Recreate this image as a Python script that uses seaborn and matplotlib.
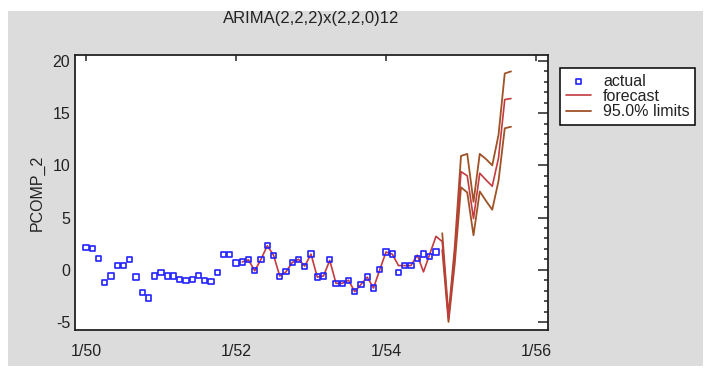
import numpy as np
import pandas as pd
import matplotlib
matplotlib.use("Agg")
import matplotlib.pyplot as plt
import seaborn as sns
from matplotlib.patches import Rectangle
from matplotlib.ticker import FixedLocator, MultipleLocator, NullLocator

title = "ARIMA(2,2,2)x(2,2,0)12"
y_label = "PCOMP_2"
tick_months = [0, 24, 48, 72]
tick_labels = ["1/50", "1/52", "1/54", "1/56"]

# observed series, monthly from January 1950
actual = [2.1, 2.0, 1.1, -1.2, -0.6, 0.4, 0.4, 1.0, -0.7, -2.2, -2.7, -0.6,
          -0.25, -0.6, -0.6, -0.9, -1.0, -0.9, -0.55, -1.0, -1.1, -0.25, 1.45, 1.45,
          0.65, 0.75, 0.95, -0.1, 1.0, 2.3, 1.4, -0.65, -0.2, 0.7, 1.0, 0.3,
          1.5, -0.7, -0.6, 0.95, -1.3, -1.3, -1.0, -2.1, -1.4, -0.7, -1.75, 0.0,
          1.7, 1.5, -0.3, 0.4, 0.4, 1.1, 1.5, 1.25, 1.7]

# one-step fits followed by the forecasts
forecast_start = 25
forecast = [0.75, 0.95, -0.1, 1.0, 2.3, 1.4, -0.6, -0.2, 0.7, 1.0, 0.35,
            1.5, -0.7, -0.6, 0.9, -1.3, -1.3, -1.0, -2.1, -1.4, -0.7, -1.75, 0.0,
            1.7, 1.5, 0.4, 0.4, 0.4, 1.4, -0.2, 1.5, 3.2,
            2.7, -4.7, 1.4, 9.4, 9.0, 4.9, 9.25, 8.6, 8.0, 10.7, 16.3, 16.4]

# 95% forecast limits
limits_start = 57
upper = [3.5, -4.4, 2.2, 10.9, 11.1, 6.5, 11.1, 10.6, 10.0, 12.9, 18.8, 19.0]
lower = [1.9, -5.0, 0.6, 7.9, 7.4, 3.3, 7.5, 6.6, 5.75, 8.5, 13.55, 13.7]

actual_df = pd.DataFrame({"month": np.arange(len(actual)), "value": actual})
fc_df = pd.DataFrame({"month": np.arange(forecast_start, forecast_start + len(forecast)),
                      "value": forecast})
up_df = pd.DataFrame({"month": np.arange(limits_start, limits_start + len(upper)),
                      "value": upper})
lo_df = pd.DataFrame({"month": np.arange(limits_start, limits_start + len(lower)),
                      "value": lower})

sns.set_theme(style="white")
plt.rcParams["font.family"] = ["Liberation Sans", "DejaVu Sans"]
plt.rcParams["axes.unicode_minus"] = False

W, H = 706, 374
fig = plt.figure(figsize=(W / 100, H / 100), dpi=100, facecolor="white")
fig.patches.append(Rectangle((8 / W, 1 - 366 / H), (703 - 8) / W, (366 - 11) / H,
                             transform=fig.transFigure, facecolor="#dcdcdc",
                             edgecolor="none", zorder=-10))
ax = fig.add_axes([75 / W, 1 - 330 / H, (548 - 75) / W, (330 - 55) / H])
ax.set_facecolor("white")

blue = "#2222ff"
fc_color = "#c43a3f"
lim_color = "#9e5226"

sns.lineplot(data=up_df, x="month", y="value", color=lim_color, lw=1.3,
             estimator=None, ax=ax, label="95.0% limits")
sns.lineplot(data=lo_df, x="month", y="value", color=lim_color, lw=1.3,
             estimator=None, ax=ax, label="_lower")
sns.lineplot(data=fc_df, x="month", y="value", color=fc_color, lw=1.2,
             estimator=None, ax=ax, label="forecast")
sns.scatterplot(data=actual_df, x="month", y="value", marker="s", s=14,
                facecolor="none", edgecolor=blue, linewidth=1.2, ax=ax,
                label="actual", zorder=5)
for coll in ax.collections:
    coll.set_facecolor("none")
    coll.set_edgecolor(blue)

ax.set_xlim(-1.76, 73.92)
ax.set_ylim(-5.77, 20.57)
ax.xaxis.set_major_locator(FixedLocator(tick_months))
ax.set_xticklabels(tick_labels)
ax.xaxis.set_minor_locator(NullLocator())
ax.yaxis.set_major_locator(MultipleLocator(5))
ax.yaxis.set_minor_locator(MultipleLocator(1))

ax.tick_params(axis="both", which="both", direction="in", top=True, right=True,
               color="#222222", width=1.1, labelcolor="#222222", labelsize=11.5)
ax.tick_params(axis="y", which="major", length=7, pad=3.5)
ax.tick_params(axis="y", which="minor", length=3)
ax.tick_params(axis="x", which="major", length=4.5, pad=10)
for sp in ax.spines.values():
    sp.set_color("#222222")
    sp.set_linewidth(1.3)

ax.set_xlabel("")
ax.set_ylabel(y_label, fontsize=11.5, color="#222222")
ax.yaxis.set_label_coords(-0.063, 0.5)

fig.text(311.5 / W, 1 - 19 / H, title, ha="center", va="center",
         fontsize=12, color="#222222")

handles, labels = ax.get_legend_handles_labels()
lookup = dict(zip(labels, handles))
order = ["actual", "forecast", "95.0% limits"]
if ax.get_legend() is not None:
    ax.get_legend().remove()
leg = fig.legend([lookup[k] for k in order], order, loc="upper left",
                 bbox_to_anchor=(560 / W, 1 - 68 / H), bbox_transform=fig.transFigure,
                 frameon=True, fancybox=False, edgecolor="black", framealpha=1,
                 fontsize=11.5, borderpad=0.35, handlelength=1.6, handletextpad=0.75,
                 labelspacing=0.02, borderaxespad=0)
leg.get_frame().set_linewidth(1.1)
for t in leg.get_texts():
    t.set_color("#222222")

fig.savefig("out.png", dpi=100, facecolor="white")
